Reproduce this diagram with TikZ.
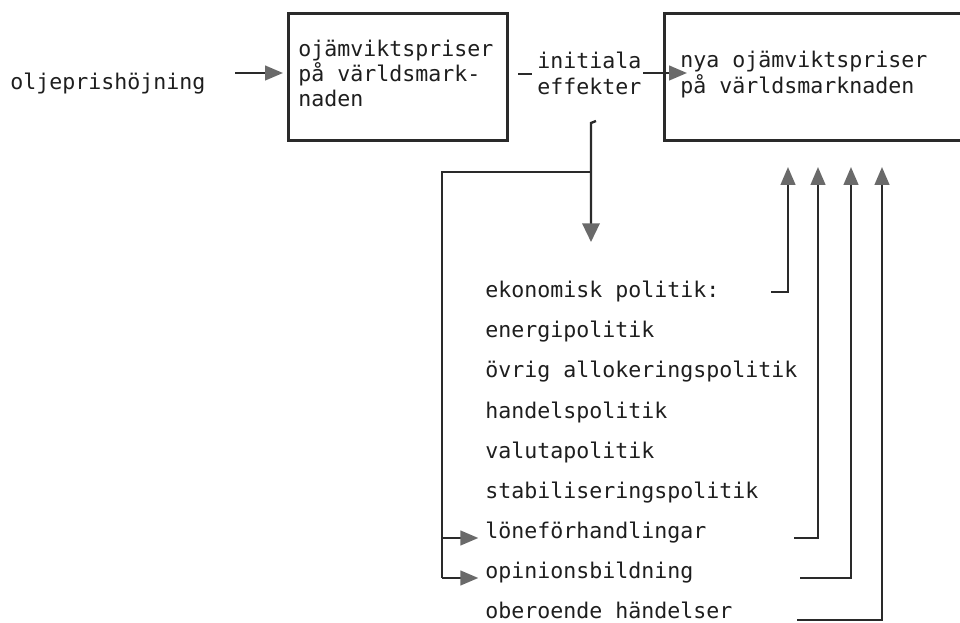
\documentclass[tikz,border=0pt]{standalone}
\usepackage{fontspec}
\newfontfamily\mono{DejaVu Sans Mono}
\usetikzlibrary{arrows.meta}
\definecolor{ink}{HTML}{1E1E1E}
\definecolor{wirec}{HTML}{2A2A2A}
\definecolor{tipc}{HTML}{6A6A6A}
\tikzset{
  lbl/.style={font=\mono\fontsize{16.2pt}{18.75pt}\selectfont, text=ink, inner sep=0pt, anchor=base west},
  frame/.style={draw=wirec, line width=2pt, inner sep=0pt, anchor=north west},
  wire/.style={draw=wirec, line width=1.8pt, line join=miter},
  arr/.style={wire, -{Triangle[length=13.5pt,width=11pt,color=tipc]}},
  bigarr/.style={wire, -{Triangle[length=14pt,width=13pt,color=tipc]}},
}
\begin{document}
\begin{tikzpicture}[x=0.75pt,y=-0.75pt]
  \useasboundingbox (0,0) rectangle (960,623);
  \clip (0,0) rectangle (960,623);

  % the two price boxes (the right one runs off the page edge)
  \node[frame, minimum width=164.25pt, minimum height=95.25pt] (b1) at (287,12) {};
  \node[frame, minimum width=240pt, minimum height=95.25pt] (b2) at (663,12) {};

  % texts
  \node[lbl] (olje) at (10,90) {oljeprishöjning};
  \node[lbl] (p1) at (298,57) {ojämviktspriser};
  \node[lbl] (p2) at (298,82) {på världsmark-};
  \node[lbl] (p3) at (298,107) {naden};
  \node[lbl] (i1) at (537,69) {initiala};
  \node[lbl] (i2) at (537,95) {effekter};
  \node[lbl] (n1) at (680,68) {nya ojämviktspriser};
  \node[lbl] (n2) at (680,94) {på världsmarknaden};

  \node[lbl] (L1) at (485,298) {ekonomisk politik:};
  \node[lbl] (L2) at (485,338) {energipolitik};
  \node[lbl] (L3) at (485,378) {övrig allokeringspolitik};
  \node[lbl] (L4) at (485,418) {handelspolitik};
  \node[lbl] (L5) at (485,458) {valutapolitik};
  \node[lbl] (L6) at (485,498) {stabiliseringspolitik};
  \node[lbl] (L7) at (485,538) {löneförhandlingar};
  \node[lbl] (L8) at (485,578) {opinionsbildning};
  \node[lbl] (L9) at (485,618) {oberoende händelser};

  % oil price arrow into the first box
  \coordinate (s0) at (235,73);
  \draw[arr, shorten >=3pt] (s0) -- (b1.west |- s0);

  % initial effects
  \coordinate (d0) at (518,74);
  \coordinate (d1) at (532,74);
  \draw[wire] (d0) -- (d1);
  \coordinate (e0) at (643,73);
  \coordinate (e1) at (687,73);
  \draw[arr] (e0) -- (e1);

  % downward branch to the policy list
  \coordinate (h0) at (596,121);
  \coordinate (h1) at (591,123);
  \coordinate (h2) at (591,242);
  \draw[bigarr] (h0) -- (h1) -- (h2);

  \coordinate (j) at (591,172);
  \coordinate (jl) at (442,172);
  \coordinate (k1) at (442,538);
  \coordinate (k2) at (442,578);
  \draw[wire] (j) -- (jl) -- (k2);
  \draw[arr, shorten >=5pt] (k1) -- (k1 -| L7.west);
  \draw[arr, shorten >=5pt] (k2) -- (k2 -| L8.west);

  % feedback arrows up to the new prices
  \coordinate (u1) at (788,167);
  \coordinate (u2) at (818,167);
  \coordinate (u3) at (851,167);
  \coordinate (u4) at (882,167);
  \coordinate (f1) at (771,292);
  \coordinate (f2) at (794,538);
  \coordinate (f3) at (800,578);
  \coordinate (f4) at (797,620);
  \draw[arr] (f1) -- (f1 -| u1) -- (u1);
  \draw[arr] (f2) -- (f2 -| u2) -- (u2);
  \draw[arr] (f3) -- (f3 -| u3) -- (u3);
  \draw[arr] (f4) -- (f4 -| u4) -- (u4);
\end{tikzpicture}
\end{document}
